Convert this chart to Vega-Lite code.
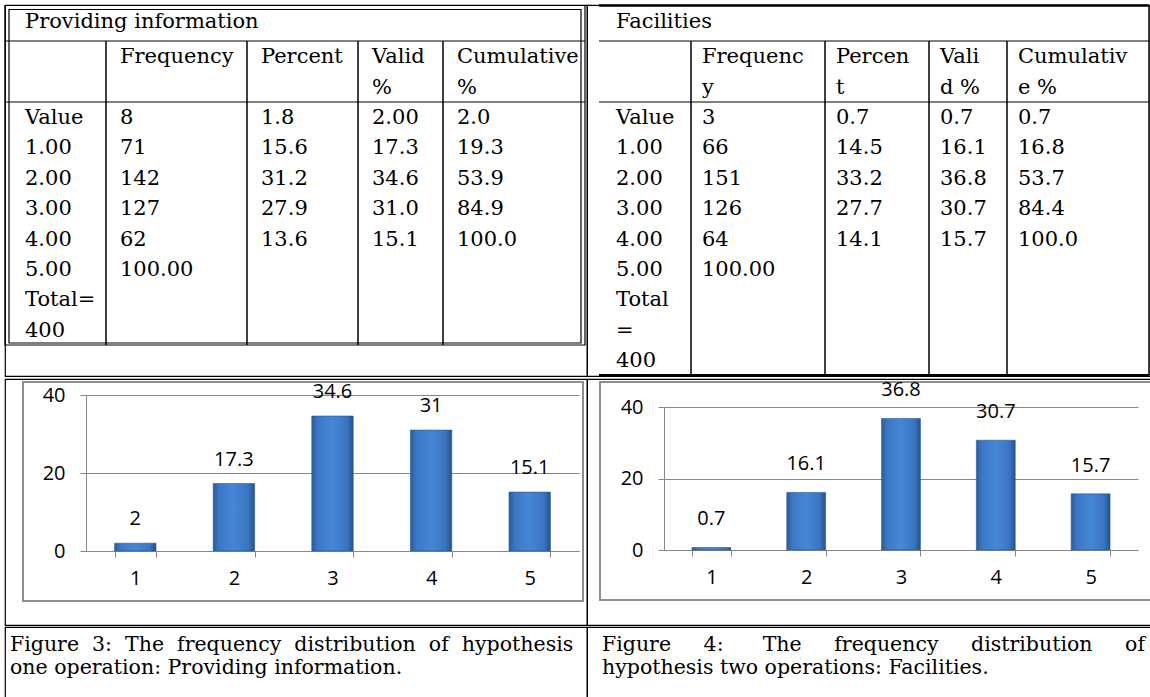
{
  "$schema": "https://vega.github.io/schema/vega-lite/v6.json",
  "padding": {"left": 3, "top": 3, "right": 0, "bottom": 0},
  "background": "white",
  "config": {
    "view": {"stroke": null},
    "text": {"font": "DejaVu Serif", "fontSize": 21, "color": "black"}
  },
  "datasets": {
    "lcells": [
      {"r": 0, "c": 0, "t": "Providing information"},
      {"r": 1, "c": 1, "t": "Frequency"}, {"r": 1, "c": 2, "t": "Percent"}, {"r": 1, "c": 3, "t": "Valid"}, {"r": 1, "c": 4, "t": "Cumulative"},
      {"r": 2, "c": 3, "t": "%"}, {"r": 2, "c": 4, "t": "%"},
      {"r": 3, "c": 0, "t": "Value"}, {"r": 3, "c": 1, "t": "8"}, {"r": 3, "c": 2, "t": "1.8"}, {"r": 3, "c": 3, "t": "2.00"}, {"r": 3, "c": 4, "t": "2.0"},
      {"r": 4, "c": 0, "t": "1.00"}, {"r": 4, "c": 1, "t": "71"}, {"r": 4, "c": 2, "t": "15.6"}, {"r": 4, "c": 3, "t": "17.3"}, {"r": 4, "c": 4, "t": "19.3"},
      {"r": 5, "c": 0, "t": "2.00"}, {"r": 5, "c": 1, "t": "142"}, {"r": 5, "c": 2, "t": "31.2"}, {"r": 5, "c": 3, "t": "34.6"}, {"r": 5, "c": 4, "t": "53.9"},
      {"r": 6, "c": 0, "t": "3.00"}, {"r": 6, "c": 1, "t": "127"}, {"r": 6, "c": 2, "t": "27.9"}, {"r": 6, "c": 3, "t": "31.0"}, {"r": 6, "c": 4, "t": "84.9"},
      {"r": 7, "c": 0, "t": "4.00"}, {"r": 7, "c": 1, "t": "62"}, {"r": 7, "c": 2, "t": "13.6"}, {"r": 7, "c": 3, "t": "15.1"}, {"r": 7, "c": 4, "t": "100.0"},
      {"r": 8, "c": 0, "t": "5.00"}, {"r": 8, "c": 1, "t": "100.00"},
      {"r": 9, "c": 0, "t": "Total="},
      {"r": 10, "c": 0, "t": "400"}
    ],
    "rcells": [
      {"r": 0, "c": 0, "t": "Facilities"},
      {"r": 1, "c": 1, "t": "Frequenc"}, {"r": 1, "c": 2, "t": "Percen"}, {"r": 1, "c": 3, "t": "Vali"}, {"r": 1, "c": 4, "t": "Cumulativ"},
      {"r": 2, "c": 1, "t": "y"}, {"r": 2, "c": 2, "t": "t"}, {"r": 2, "c": 3, "t": "d %"}, {"r": 2, "c": 4, "t": "e %"},
      {"r": 3, "c": 0, "t": "Value"}, {"r": 3, "c": 1, "t": "3"}, {"r": 3, "c": 2, "t": "0.7"}, {"r": 3, "c": 3, "t": "0.7"}, {"r": 3, "c": 4, "t": "0.7"},
      {"r": 4, "c": 0, "t": "1.00"}, {"r": 4, "c": 1, "t": "66"}, {"r": 4, "c": 2, "t": "14.5"}, {"r": 4, "c": 3, "t": "16.1"}, {"r": 4, "c": 4, "t": "16.8"},
      {"r": 5, "c": 0, "t": "2.00"}, {"r": 5, "c": 1, "t": "151"}, {"r": 5, "c": 2, "t": "33.2"}, {"r": 5, "c": 3, "t": "36.8"}, {"r": 5, "c": 4, "t": "53.7"},
      {"r": 6, "c": 0, "t": "3.00"}, {"r": 6, "c": 1, "t": "126"}, {"r": 6, "c": 2, "t": "27.7"}, {"r": 6, "c": 3, "t": "30.7"}, {"r": 6, "c": 4, "t": "84.4"},
      {"r": 7, "c": 0, "t": "4.00"}, {"r": 7, "c": 1, "t": "64"}, {"r": 7, "c": 2, "t": "14.1"}, {"r": 7, "c": 3, "t": "15.7"}, {"r": 7, "c": 4, "t": "100.0"},
      {"r": 8, "c": 0, "t": "5.00"}, {"r": 8, "c": 1, "t": "100.00"},
      {"r": 9, "c": 0, "t": "Total"},
      {"r": 10, "c": 0, "t": "="},
      {"r": 11, "c": 0, "t": "400"}
    ],
    "lframe": [{"c1": 0, "c2": 5, "e1": 0, "e2": 11}],
    "lh": [{"e": 1, "c1": 0, "c2": 5}, {"e": 3, "c1": 0, "c2": 5}],
    "lv": [{"c": 1, "e1": 1, "e2": 11}, {"c": 2, "e1": 1, "e2": 11}, {"c": 3, "e1": 1, "e2": 11}, {"c": 4, "e1": 1, "e2": 11}],
    "rh": [{"e": 1, "c1": 0, "c2": 5}, {"e": 3, "c1": 0, "c2": 5}],
    "rtop": [{"e": 0, "c1": 0, "c2": 5}],
    "rbottom": [{"e": 12, "c1": 0, "c2": 5}],
    "rv": [{"c": 1, "e1": 1, "e2": 12}, {"c": 2, "e1": 1, "e2": 12}, {"c": 3, "e1": 1, "e2": 12}, {"c": 4, "e1": 1, "e2": 12}, {"c": 5, "e1": 0, "e2": 12}],
    "barsL": [{"cat": "1", "v": 2}, {"cat": "2", "v": 17.3}, {"cat": "3", "v": 34.6}, {"cat": "4", "v": 31}, {"cat": "5", "v": 15.1}],
    "barsR": [{"cat": "1", "v": 0.7}, {"cat": "2", "v": 16.1}, {"cat": "3", "v": 36.8}, {"cat": "4", "v": 30.7}, {"cat": "5", "v": 15.7}],
    "capL": [{"line": 1, "t": "Figure\u00a0\u00a03:\u00a0\u00a0The\u00a0\u00a0frequency\u00a0\u00a0distribution\u00a0\u00a0of\u00a0\u00a0hypothesis"}, {"line": 2, "t": "one operation: Providing information."}],
    "capR": [{"line": 1, "t": "Figure\u00a0\u00a0\u00a0\u00a0\u00a04:\u00a0\u00a0\u00a0\u00a0\u00a0\u00a0The\u00a0\u00a0\u00a0\u00a0\u00a0frequency\u00a0\u00a0\u00a0\u00a0\u00a0distribution\u00a0\u00a0\u00a0\u00a0\u00a0of"}, {"line": 2, "t": "hypothesis two operations: Facilities."}]
  },
  "spacing": 0,
  "vconcat": [
    {
      "spacing": 0,
      "bounds": "flush",
      "hconcat": [
        {
          "width": 582,
          "height": 371,
          "view": {"stroke": "black", "strokeWidth": 1.2},
          "layer": [
            {
              "data": {"name": "lframe"},
              "mark": {"type": "rect", "fill": "white", "fillOpacity": 0, "stroke": "black", "strokeWidth": 1.2},
              "encoding": {
                "x": {"field": "c1", "type": "quantitative", "scale": {"type": "linear", "domain": [0, 1, 2, 3, 4, 5], "range": [0, 101, 242, 353, 438, 580], "nice": false, "zero": false}, "axis": null},
                "x2": {"field": "c2"},
                "y": {"field": "e1", "type": "quantitative", "scale": {"type": "linear", "domain": [0, 1, 3, 12], "range": [0.5, 36, 97, 370.4], "nice": false, "zero": false}, "axis": null},
                "y2": {"field": "e2"}
              }
            },
            {
              "data": {"name": "lframe"},
              "mark": {"type": "rect", "fill": "white", "fillOpacity": 0, "stroke": "black", "strokeWidth": 1.2, "xOffset": 4, "x2Offset": -4, "yOffset": 4, "y2Offset": -2},
              "encoding": {
                "x": {"field": "c1", "type": "quantitative"},
                "x2": {"field": "c2"},
                "y": {"field": "e1", "type": "quantitative"},
                "y2": {"field": "e2"}
              }
            },
            {
              "data": {"name": "lh"},
              "mark": {"type": "rule", "color": "black", "strokeWidth": 1.2},
              "encoding": {
                "x": {"field": "c1", "type": "quantitative"},
                "x2": {"field": "c2"},
                "y": {"field": "e", "type": "quantitative"}
              }
            },
            {
              "data": {"name": "lv"},
              "mark": {"type": "rule", "color": "black", "strokeWidth": 1.5},
              "encoding": {
                "x": {"field": "c", "type": "quantitative"},
                "y": {"field": "e1", "type": "quantitative"},
                "y2": {"field": "e2"}
              }
            },
            {
              "data": {"name": "lcells"},
              "transform": [{"filter": "datum.c == 0"}],
              "mark": {"type": "text", "align": "left", "baseline": "middle", "dx": 20, "dy": 16},
              "encoding": {
                "x": {"field": "c", "type": "quantitative"},
                "y": {"field": "r", "type": "quantitative"},
                "text": {"field": "t", "type": "nominal"}
              }
            },
            {
              "data": {"name": "lcells"},
              "transform": [{"filter": "datum.c > 0"}],
              "mark": {"type": "text", "align": "left", "baseline": "middle", "dx": 14, "dy": 16},
              "encoding": {
                "x": {"field": "c", "type": "quantitative"},
                "y": {"field": "r", "type": "quantitative"},
                "text": {"field": "t", "type": "nominal"}
              }
            }
          ]
        },
        {
          "width": 563,
          "height": 371,
          "view": {"stroke": "black", "strokeWidth": 1.2},
          "layer": [
            {
              "data": {"name": "rtop"},
              "mark": {"type": "rule", "color": "black", "strokeWidth": 2.5},
              "encoding": {
                "x": {"field": "c1", "type": "quantitative", "scale": {"type": "linear", "domain": [0, 1, 2, 3, 4, 5], "range": [12, 104, 238, 342, 420, 562], "nice": false, "zero": false}, "axis": null},
                "x2": {"field": "c2"},
                "y": {"field": "e", "type": "quantitative", "scale": {"type": "linear", "domain": [0, 1, 3, 12], "range": [0.5, 36, 97, 370.4], "nice": false, "zero": false}, "axis": null}
              }
            },
            {
              "data": {"name": "rbottom"},
              "mark": {"type": "rule", "color": "black", "strokeWidth": 3},
              "encoding": {
                "x": {"field": "c1", "type": "quantitative"},
                "x2": {"field": "c2"},
                "y": {"field": "e", "type": "quantitative"}
              }
            },
            {
              "data": {"name": "rh"},
              "mark": {"type": "rule", "color": "black", "strokeWidth": 1.2},
              "encoding": {
                "x": {"field": "c1", "type": "quantitative"},
                "x2": {"field": "c2"},
                "y": {"field": "e", "type": "quantitative"}
              }
            },
            {
              "data": {"name": "rv"},
              "mark": {"type": "rule", "color": "black", "strokeWidth": 1.5},
              "encoding": {
                "x": {"field": "c", "type": "quantitative"},
                "y": {"field": "e1", "type": "quantitative"},
                "y2": {"field": "e2"}
              }
            },
            {
              "data": {"name": "rcells"},
              "transform": [{"filter": "datum.c == 0"}],
              "mark": {"type": "text", "align": "left", "baseline": "middle", "dx": 17, "dy": 16},
              "encoding": {
                "x": {"field": "c", "type": "quantitative"},
                "y": {"field": "r", "type": "quantitative"},
                "text": {"field": "t", "type": "nominal"}
              }
            },
            {
              "data": {"name": "rcells"},
              "transform": [{"filter": "datum.c > 0"}],
              "mark": {"type": "text", "align": "left", "baseline": "middle", "dx": 11, "dy": 16},
              "encoding": {
                "x": {"field": "c", "type": "quantitative"},
                "y": {"field": "r", "type": "quantitative"},
                "text": {"field": "t", "type": "nominal"}
              }
            }
          ]
        }
      ]
    },
    {
      "spacing": 0,
      "bounds": "flush",
      "hconcat": [
        {
          "width": 582,
          "height": 246,
          "view": {"stroke": "black", "strokeWidth": 1.2},
          "resolve": {"scale": {"x": "independent", "y": "independent"}},
          "layer": [
            {
              "data": {"values": [{"part": "frame"}]},
              "mark": {"type": "rect", "fill": "white", "fillOpacity": 0, "stroke": "#8e8e8e", "strokeWidth": 2},
              "encoding": {
                "x": {"datum": 0, "type": "quantitative", "scale": {"domain": [0, 1], "range": [18, 578], "nice": false, "zero": false}, "axis": null},
                "x2": {"datum": 1},
                "y": {"datum": 0, "type": "quantitative", "scale": {"domain": [0, 1], "range": [3, 222], "nice": false, "zero": false}, "axis": null},
                "y2": {"datum": 1}
              }
            },
            {
              "data": {"name": "barsL"},
              "layer": [
                {
                  "mark": {
                    "type": "bar",
                    "stroke": "#2a5893",
                    "strokeWidth": 0.6,
                    "fill": {"gradient": "linear", "x1": 0, "y1": 0, "x2": 1, "y2": 0, "stops": [
                      {"offset": 0, "color": "#2b5c9c"},
                      {"offset": 0.15, "color": "#3b78c6"},
                      {"offset": 0.5, "color": "#4587d6"},
                      {"offset": 0.85, "color": "#3a74c0"},
                      {"offset": 1, "color": "#27518a"}
                    ]}
                  },
                  "encoding": {
                    "x": {
                      "field": "cat", "type": "ordinal",
                      "scale": {"range": [81, 574], "paddingInner": 0.58, "paddingOuter": 0.29},
                      "axis": {"title": null, "orient": "bottom", "offset": -74, "tickBand": "extent", "domainColor": "#868686", "tickColor": "#868686", "tickSize": 6, "labelFont": "Open Sans", "labelFontSize": 20, "labelColor": "black", "labelPadding": 11, "labelAngle": 0, "grid": false}
                    },
                    "y": {
                      "field": "v", "type": "quantitative",
                      "scale": {"domain": [0, 40], "range": [172, 16], "nice": false, "zero": true},
                      "axis": {"title": null, "orient": "left", "offset": -81, "values": [0, 20, 40], "domainColor": "#868686", "tickColor": "#868686", "tickSize": 6, "grid": true, "gridColor": "#868686", "gridWidth": 1, "labelFont": "Open Sans", "labelFontSize": 20, "labelColor": "black", "labelPadding": 15}
                    }
                  }
                },
                {
                  "mark": {"type": "text", "font": "Open Sans", "fontSize": 20, "baseline": "middle", "align": "center", "dy": -24},
                  "encoding": {
                    "x": {"field": "cat", "type": "ordinal"},
                    "y": {"field": "v", "type": "quantitative"},
                    "text": {"field": "v", "type": "nominal"}
                  }
                }
              ]
            }
          ]
        },
        {
          "width": 567,
          "height": 246,
          "view": {"stroke": "black", "strokeWidth": 1.2},
          "resolve": {"scale": {"x": "independent", "y": "independent"}},
          "layer": [
            {
              "data": {"values": [{"part": "frame"}]},
              "mark": {"type": "rect", "fill": "white", "fillOpacity": 0, "stroke": "#8e8e8e", "strokeWidth": 2},
              "encoding": {
                "x": {"datum": 0, "type": "quantitative", "scale": {"domain": [0, 1], "range": [13, 580], "nice": false, "zero": false}, "axis": null},
                "x2": {"datum": 1},
                "y": {"datum": 0, "type": "quantitative", "scale": {"domain": [0, 1], "range": [3, 221], "nice": false, "zero": false}, "axis": null},
                "y2": {"datum": 1}
              }
            },
            {
              "data": {"name": "barsR"},
              "layer": [
                {
                  "mark": {
                    "type": "bar",
                    "stroke": "#2a5893",
                    "strokeWidth": 0.6,
                    "fill": {"gradient": "linear", "x1": 0, "y1": 0, "x2": 1, "y2": 0, "stops": [
                      {"offset": 0, "color": "#2b5c9c"},
                      {"offset": 0.15, "color": "#3b78c6"},
                      {"offset": 0.5, "color": "#4587d6"},
                      {"offset": 0.85, "color": "#3a74c0"},
                      {"offset": 1, "color": "#27518a"}
                    ]}
                  },
                  "encoding": {
                    "x": {
                      "field": "cat", "type": "ordinal",
                      "scale": {"range": [77, 551], "paddingInner": 0.59, "paddingOuter": 0.295},
                      "axis": {"title": null, "orient": "bottom", "offset": -75, "tickBand": "extent", "domainColor": "#868686", "tickColor": "#868686", "tickSize": 6, "labelFont": "Open Sans", "labelFontSize": 20, "labelColor": "black", "labelPadding": 11, "labelAngle": 0, "grid": false}
                    },
                    "y": {
                      "field": "v", "type": "quantitative",
                      "scale": {"domain": [0, 40], "range": [171, 28], "nice": false, "zero": true},
                      "axis": {"title": null, "orient": "left", "offset": -77, "values": [0, 20, 40], "domainColor": "#868686", "tickColor": "#868686", "tickSize": 6, "grid": true, "gridColor": "#868686", "gridWidth": 1, "labelFont": "Open Sans", "labelFontSize": 20, "labelColor": "black", "labelPadding": 15}
                    }
                  }
                },
                {
                  "mark": {"type": "text", "font": "Open Sans", "fontSize": 20, "baseline": "middle", "align": "center", "dy": -28},
                  "encoding": {
                    "x": {"field": "cat", "type": "ordinal"},
                    "y": {"field": "v", "type": "quantitative"},
                    "text": {"field": "v", "type": "nominal"}
                  }
                }
              ]
            }
          ]
        }
      ]
    },
    {
      "spacing": 0,
      "bounds": "flush",
      "hconcat": [
        {
          "width": 582,
          "height": 76,
          "view": {"stroke": "black", "strokeWidth": 1.2},
          "data": {"name": "capL"},
          "mark": {"type": "text", "align": "left", "baseline": "middle", "fontSize": 20.5},
          "encoding": {
            "x": {"datum": 0, "type": "quantitative", "scale": {"domain": [0, 1], "range": [5, 570], "nice": false, "zero": false}, "axis": null},
            "y": {"field": "line", "type": "quantitative", "scale": {"domain": [1, 2], "range": [18, 41], "nice": false, "zero": false}, "axis": null},
            "text": {"field": "t", "type": "nominal"}
          }
        },
        {
          "width": 567,
          "height": 76,
          "view": {"stroke": "black", "strokeWidth": 1.2},
          "data": {"name": "capR"},
          "mark": {"type": "text", "align": "left", "baseline": "middle", "fontSize": 20.5},
          "encoding": {
            "x": {"datum": 0, "type": "quantitative", "scale": {"domain": [0, 1], "range": [15, 560], "nice": false, "zero": false}, "axis": null},
            "y": {"field": "line", "type": "quantitative", "scale": {"domain": [1, 2], "range": [18, 41], "nice": false, "zero": false}, "axis": null},
            "text": {"field": "t", "type": "nominal"}
          }
        }
      ]
    }
  ]
}
